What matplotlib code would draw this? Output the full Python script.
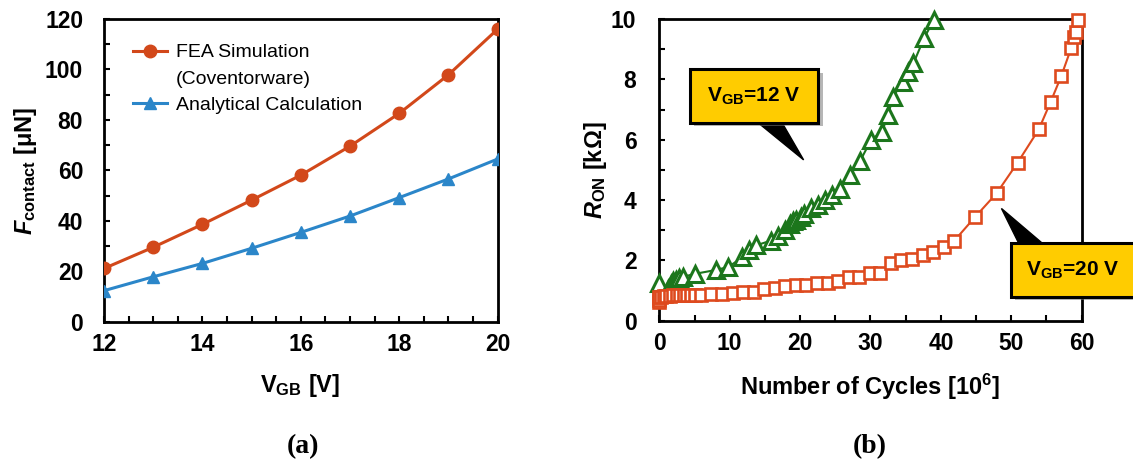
import matplotlib
matplotlib.use("Agg")
import matplotlib.pyplot as plt
from matplotlib.patches import Rectangle, Polygon
from matplotlib.ticker import MultipleLocator

plt.rcParams['font.family'] = ['Liberation Sans', 'DejaVu Sans']
plt.rcParams['font.weight'] = 'bold'
plt.rcParams['mathtext.fontset'] = 'custom'
plt.rcParams['mathtext.rm'] = 'Liberation Sans:bold'
plt.rcParams['mathtext.it'] = 'Liberation Sans:bold:italic'
plt.rcParams['mathtext.bf'] = 'Liberation Sans:bold'
plt.rcParams['mathtext.sf'] = 'Liberation Sans:bold'

# ---------------- data: panel (a) ----------------
v_gb = [12, 13, 14, 15, 16, 17, 18, 19, 20]
f_fea = [21.1, 29.5, 38.6, 48.2, 58.1, 69.6, 82.6, 97.9, 116.0]
f_analytical = [12.3, 17.8, 23.1, 29.1, 35.4, 41.9, 49.2, 56.6, 64.5]

# ---------------- data: panel (b) ----------------
cycles_12v = [0, 1.2, 1.6, 2.0, 2.4, 2.8, 3.3, 5.0, 8.0, 9.8, 11.8, 12.8, 13.8,
              15.8, 16.9, 17.8, 18.5, 19.0, 19.4, 20.1, 20.6, 21.6, 22.6, 23.5,
              24.5, 25.6, 27.1, 28.5, 30.1, 31.6, 32.5, 33.2, 34.6, 35.3, 36.1,
              37.6, 39.0]
r_on_12v = [1.24, 1.05, 1.2, 1.3, 1.35, 1.4, 1.45, 1.55, 1.68, 1.78, 2.1, 2.35,
            2.5, 2.65, 2.8, 3.0, 3.2, 3.3, 3.35, 3.45, 3.55, 3.72, 3.85, 4.0,
            4.15, 4.38, 4.83, 5.28, 6.0, 6.25, 6.82, 7.42, 7.92, 8.25, 8.53,
            9.36, 9.97]

cycles_20v = [0, 0, 0, 0.2, 0.6, 1.0, 1.5, 2.0, 2.5, 3.0, 3.5, 4.0, 4.5, 5.0,
              5.9, 7.4, 8.9, 10.4, 11.9, 13.4, 14.9, 16.4, 17.9, 19.4, 20.9,
              22.4, 23.9, 25.4, 26.9, 28.4, 29.9, 31.4, 32.9, 34.4, 35.9, 37.4,
              38.9, 40.4, 41.9, 44.9, 47.9, 50.9, 53.9, 55.6, 57.1, 58.5, 58.9,
              59.2, 59.5]
r_on_20v = [0.62, 0.7, 0.78, 0.8, 0.82, 0.83, 0.83, 0.84, 0.84, 0.84, 0.85,
            0.85, 0.85, 0.85, 0.86, 0.88, 0.9, 0.93, 0.94, 0.95, 1.04, 1.1,
            1.15, 1.17, 1.17, 1.24, 1.26, 1.31, 1.44, 1.44, 1.57, 1.57, 1.9,
            2.0, 2.03, 2.18, 2.29, 2.45, 2.65, 3.45, 4.22, 5.24, 6.34, 7.26,
            8.11, 9.03, 9.41, 9.58, 9.97]

labels_b = ['V$_{\\mathrm{GB}}$=12 V', 'V$_{\\mathrm{GB}}$=20 V']

# ---------------- colours ----------------
c_red_a = '#D2481A'
c_blue = '#2B86C9'
c_green = '#1C761C'
c_red_b = '#DE4A1E'
c_gold = '#FFCC00'

W, H = 1133, 461
fig = plt.figure(figsize=(W / 100, H / 100), dpi=100)

ax1 = fig.add_axes([104 / W, (H - 321.7) / H, 393.7 / W, 302.7 / H])
ax2 = fig.add_axes([659.3 / W, (H - 320.7) / H, 422.4 / W, 301.7 / H])

# ---------------- panel (a) ----------------
l1, = ax1.plot(v_gb, f_fea, color=c_red_a, lw=2.2, marker='o', ms=9,
               label='FEA Simulation', zorder=3)
l2, = ax1.plot(v_gb, f_analytical, color=c_blue, lw=2.2, marker='^', ms=9,
               label='Analytical Calculation', zorder=3)
ax1.set_xlim(12, 20)
ax1.set_ylim(0, 120)
ax1.xaxis.set_major_locator(MultipleLocator(2))
ax1.xaxis.set_minor_locator(MultipleLocator(0.5))
ax1.yaxis.set_major_locator(MultipleLocator(20))
ax1.yaxis.set_minor_locator(MultipleLocator(10))

blank = plt.Line2D([], [], linestyle='none', marker='none')
leg = ax1.legend([l1, blank, l2],
                 ['FEA Simulation', '(Coventorware)', 'Analytical Calculation'],
                 loc='upper left', bbox_to_anchor=(0.073, 0.918), frameon=False,
                 borderpad=0, borderaxespad=0, handlelength=1.75,
                 handletextpad=0.45, labelspacing=0.45,
                 prop={'family': 'Liberation Sans', 'weight': 'normal',
                       'size': 14})

ax1.set_xlabel('V$_{\\mathrm{GB}}$ [V]', fontsize=17, fontweight='bold')
ax1.set_ylabel('$F_{\\mathrm{contact}}$ [μN]', fontsize=17, fontweight='bold')
ax1.xaxis.set_label_coords(0.498, -0.212)
ax1.xaxis.label.set_va('center')
ax1.yaxis.set_label_coords(-0.2, 0.5)
ax1.yaxis.label.set_va('center')

# ---------------- panel (b) ----------------
ax2.plot(cycles_12v, r_on_12v, color=c_green, lw=1.5, marker='^', ms=11,
         mfc='white', mec=c_green, mew=2.2, zorder=3, clip_on=False)
ax2.plot(cycles_20v, r_on_20v, color=c_red_b, lw=1.5, marker='s', ms=8.5,
         mfc='white', mec=c_red_b, mew=1.9, zorder=4, clip_on=False)
ax2.set_xlim(0, 60)
ax2.set_ylim(0, 10)
ax2.xaxis.set_major_locator(MultipleLocator(10))
ax2.xaxis.set_minor_locator(MultipleLocator(5))
ax2.yaxis.set_major_locator(MultipleLocator(2))
ax2.yaxis.set_minor_locator(MultipleLocator(1))
ax2.set_xlabel('Number of Cycles [10$^{\\mathrm{6}}$]', fontsize=17,
               fontweight='bold')
ax2.set_ylabel('$R_{\\mathrm{ON}}$ [kΩ]', fontsize=17, fontweight='bold')
ax2.xaxis.set_label_coords(0.499, -0.218)
ax2.xaxis.label.set_va('center')
ax2.yaxis.set_label_coords(-0.152, 0.5)
ax2.yaxis.label.set_va('center')

# callout boxes (data coordinates of panel b)
callouts = [
    dict(box=(4.3, 22.6, 6.56, 8.33), base=(13.3, 17.1, 6.7), tip=(20.5, 5.33),
         txt=(13.4, 7.45), label=labels_b[0]),
    dict(box=(49.9, 67.6, 0.80, 2.57), base=(51.3, 55.0, 2.45), tip=(48.6, 3.72),
         txt=(58.8, 1.66), label=labels_b[1]),
]
for c in callouts:
    x0, x1, y0, y1 = c['box']
    xa, xb, yb = c['base']
    xt, yt = c['tip']
    wedge = Polygon([(xa, yb), (xb, yb), (xt, yt)], closed=True,
                    facecolor='black', edgecolor='black', lw=1,
                    zorder=6, clip_on=False)
    ax2.add_patch(wedge)
    shadow = Rectangle((x0 + 0.6, y0 - 0.12), x1 - x0, y1 - y0,
                       facecolor='#7a7a7a', edgecolor='none', alpha=0.55,
                       zorder=6, clip_on=False)
    ax2.add_patch(shadow)
    box = Rectangle((x0, y0), x1 - x0, y1 - y0, facecolor=c_gold,
                    edgecolor='black', lw=2.2, zorder=7, clip_on=False)
    ax2.add_patch(box)
    ax2.text(c['txt'][0], c['txt'][1], c['label'], ha='center', va='center',
             fontsize=15, fontweight='bold', zorder=8,
             family=['Liberation Sans Narrow', 'Liberation Sans'])

# ---------------- common styling ----------------
for ax in (ax1, ax2):
    for s in ax.spines.values():
        s.set_linewidth(2.0)
        s.set_color('black')
    ax.tick_params(which='both', direction='in', top=False, right=False,
                   width=1.5, colors='black')
    ax.tick_params(which='major', length=4)
    ax.tick_params(which='minor', length=4)
    ax.tick_params(axis='x', which='major', pad=8, labelsize=16.5)
    ax.tick_params(axis='y', which='major', pad=15, labelsize=16.5)
    for lab in ax.get_xticklabels() + ax.get_yticklabels():
        lab.set_fontweight('bold')

ax2.tick_params(axis='y', which='major', pad=16.5)

# panel captions
fig.text(303 / W, 1 - 447 / H, '(a)', ha='center', va='center', fontsize=20,
         fontweight='bold', family=['Liberation Serif', 'DejaVu Serif'])
fig.text(870 / W, 1 - 447 / H, '(b)', ha='center', va='center', fontsize=20,
         fontweight='bold', family=['Liberation Serif', 'DejaVu Serif'])

fig.savefig('out.png', dpi=100, facecolor='white')
